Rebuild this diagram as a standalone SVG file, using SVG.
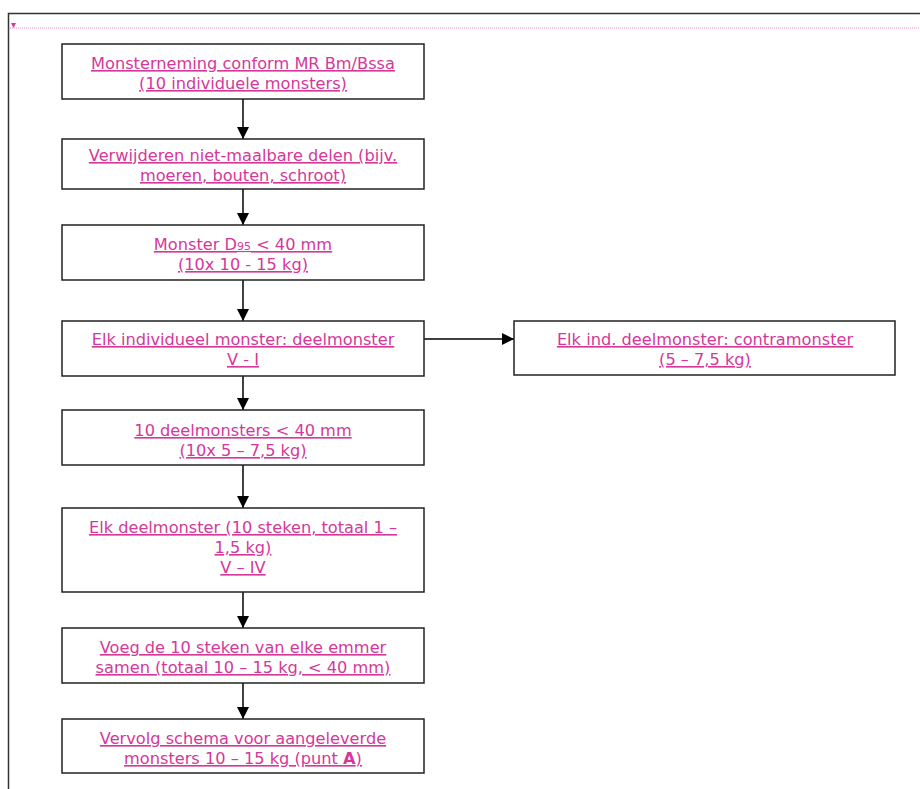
<svg xmlns="http://www.w3.org/2000/svg" width="920" height="789" viewBox="0 0 920 789">
<defs>
<marker id="ah" viewBox="0 0 12 12" refX="12" refY="6" markerWidth="12" markerHeight="12" markerUnits="userSpaceOnUse" orient="auto">
<path d="M0,0 L12,6 L0,12 Z" fill="#000"/>
</marker>
<style>
.box{fill:#fff;stroke:#222;stroke-width:1.5}
.t{font-family:"DejaVu Sans",Verdana,sans-serif;font-size:16.2px;fill:#d4389a;text-anchor:middle;text-decoration:underline}
.c{stroke:#000;stroke-width:1.5;fill:none;marker-end:url(#ah)}
</style>
</defs>
<rect x="0" y="0" width="920" height="789" fill="#fff"/>
<path d="M8.5,789 V13.5 H920" fill="none" stroke="#333" stroke-width="1.5"/>
<line x1="10" y1="28" x2="920" y2="28" stroke="#e58ac4" stroke-width="1" stroke-dasharray="1,1"/>
<path d="M11,23 L16,23 L13.5,28 Z" fill="#d4389a"/>
<g id="connectors">
<line class="c" x1="243" y1="99" x2="243" y2="139"/>
<line class="c" x1="243" y1="189" x2="243" y2="225"/>
<line class="c" x1="243" y1="280" x2="243" y2="321"/>
<line class="c" x1="424" y1="339" x2="514" y2="339"/>
<line class="c" x1="243" y1="376" x2="243" y2="410"/>
<line class="c" x1="243" y1="465" x2="243" y2="508"/>
<line class="c" x1="243" y1="592" x2="243" y2="628"/>
<line class="c" x1="243" y1="683" x2="243" y2="719"/>
</g>
<g id="n1">
<rect class="box" x="62" y="44" width="362" height="55"/>
<text class="t" x="243" y="69">Monsterneming conform MR Bm/Bssa</text>
<text class="t" x="243" y="89">(10 individuele monsters)</text>
</g>
<g id="n2">
<rect class="box" x="62" y="139" width="362" height="50"/>
<text class="t" x="243" y="161">Verwijderen niet-maalbare delen (bijv.</text>
<text class="t" x="243" y="181">moeren, bouten, schroot)</text>
</g>
<g id="n3">
<rect class="box" x="62" y="225" width="362" height="55"/>
<text class="t" x="243" y="250">Monster D<tspan font-size="11">95</tspan> &lt; 40 mm</text>
<text class="t" x="243" y="270">(10x 10 - 15 kg)</text>
</g>
<g id="n4">
<rect class="box" x="62" y="321" width="362" height="55"/>
<text class="t" x="243" y="345">Elk individueel monster: deelmonster</text>
<text class="t" x="243" y="365">V - I</text>
</g>
<g id="n4b">
<rect class="box" x="514" y="321" width="381" height="54"/>
<text class="t" x="705" y="345">Elk ind. deelmonster: contramonster</text>
<text class="t" x="705" y="365">(5 – 7,5 kg)</text>
</g>
<g id="n5">
<rect class="box" x="62" y="410" width="362" height="55"/>
<text class="t" x="243" y="436">10 deelmonsters &lt; 40 mm</text>
<text class="t" x="243" y="456">(10x 5 – 7,5 kg)</text>
</g>
<g id="n6">
<rect class="box" x="62" y="508" width="362" height="84"/>
<text class="t" x="243" y="533">Elk deelmonster (10 steken, totaal 1 –</text>
<text class="t" x="243" y="553">1,5 kg)</text>
<text class="t" x="243" y="573">V – IV</text>
</g>
<g id="n7">
<rect class="box" x="62" y="628" width="362" height="55"/>
<text class="t" x="243" y="653">Voeg de 10 steken van elke emmer</text>
<text class="t" x="243" y="673">samen (totaal 10 – 15 kg, &lt; 40 mm)</text>
</g>
<g id="n8">
<rect class="box" x="62" y="719" width="362" height="54"/>
<text class="t" x="243" y="744">Vervolg schema voor aangeleverde</text>
<text class="t" x="243" y="764">monsters 10 – 15 kg (punt <tspan font-weight="bold">A</tspan>)</text>
</g>
</svg>
